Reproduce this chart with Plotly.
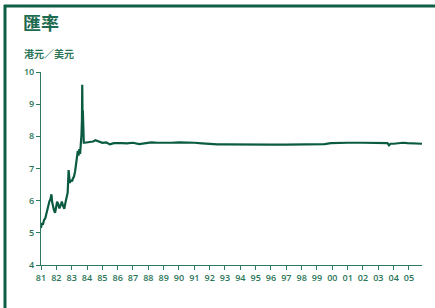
import plotly.graph_objects as go

years = [1981.00, 1981.05, 1981.12, 1981.20, 1981.28, 1981.35, 1981.42, 1981.48, 1981.55, 1981.62,
         1981.68, 1981.73, 1981.78, 1981.85, 1981.92, 1982.00, 1982.05, 1982.12, 1982.20, 1982.28,
         1982.36, 1982.45, 1982.52, 1982.60, 1982.68, 1982.74, 1982.80, 1982.84, 1982.88, 1982.95,
         1983.02, 1983.08, 1983.15, 1983.22, 1983.28, 1983.35, 1983.40, 1983.45, 1983.50, 1983.55,
         1983.60, 1983.64, 1983.67, 1983.69, 1983.71, 1983.73, 1983.76, 1983.79,
         1983.85, 1984.00, 1984.20, 1984.40, 1984.55, 1984.70, 1984.85, 1985.00, 1985.25, 1985.50,
         1985.75, 1986.00, 1986.30, 1986.60, 1987.00, 1987.40, 1987.80, 1988.20, 1988.60, 1989.00,
         1989.50, 1990.00, 1990.50, 1991.00, 1991.50, 1992.00, 1992.50, 1993.00, 1994.00, 1995.00,
         1996.00, 1997.00, 1997.50, 1998.00, 1998.50, 1999.00, 1999.50, 1999.90, 2000.50, 2001.00,
         2002.00, 2003.00, 2003.60, 2003.70, 2003.80, 2004.00, 2004.30, 2004.60, 2004.90, 2005.20,
         2005.50, 2005.85]
rates = [5.15, 5.30, 5.25, 5.40, 5.45, 5.60, 5.75, 5.85, 5.98, 6.05,
         6.20, 5.95, 5.80, 5.70, 5.62, 5.85, 5.97, 5.90, 5.76, 5.85,
         5.97, 5.82, 5.75, 5.95, 6.20, 6.25, 6.95, 6.70, 6.55, 6.65,
         6.60, 6.68, 6.75, 6.90, 7.10, 7.25, 7.55, 7.40, 7.60, 7.45,
         7.70, 8.05, 8.50, 9.60, 8.60, 8.80, 8.20, 7.80,
         7.80, 7.81, 7.82, 7.84, 7.88, 7.85, 7.82, 7.80, 7.81, 7.75,
         7.79, 7.80, 7.79, 7.78, 7.80, 7.76, 7.79, 7.81, 7.80, 7.79,
         7.80, 7.81, 7.81, 7.80, 7.78, 7.76, 7.75, 7.75, 7.74, 7.74,
         7.74, 7.74, 7.74, 7.75, 7.75, 7.75, 7.76, 7.79, 7.80, 7.80,
         7.80, 7.80, 7.79, 7.72, 7.77, 7.77, 7.79, 7.80, 7.79, 7.78,
         7.78, 7.77]

tick_years = list(range(1981, 2006))
tick_labels = [f"{y % 100:02d}" for y in tick_years]
y_ticks = [4, 5, 6, 7, 8, 9, 10]

title_text = "匯率"
unit_text = "港元／美元"

line_col = "#0b5b43"
axis_col = "#2e7a5e"
text_col = "#2a7558"

fig = go.Figure()
fig.add_trace(go.Scatter(x=years, y=rates, mode="lines",
                         line=dict(color=line_col, width=2.2), hoverinfo="skip"))

W, H = 435, 308
L, R, T, B = 41, 13, 72, 43
pw, ph = W - L - R, H - T - B

def px(x):
    return (x - L) / pw

def py(y):
    return (H - B - y) / ph

tfont = dict(family="Open Sans", size=9, color=text_col, weight=600)

fig.update_layout(
    width=W, height=H,
    margin=dict(l=L, r=R, t=T, b=B),
    paper_bgcolor="white", plot_bgcolor="white",
    showlegend=False,
    font=dict(family="Open Sans, Noto Sans CJK TC", color=text_col, size=9),
    xaxis=dict(range=[1981, 2005.85], tickvals=tick_years, ticktext=tick_labels,
               showgrid=False, zeroline=False, showline=True, linecolor=axis_col, linewidth=1,
               ticks="outside", ticklen=4, tickcolor=axis_col, tickwidth=1,
               tickfont=tfont),
    yaxis=dict(range=[4, 10], tickvals=y_ticks,
               showgrid=False, zeroline=False, showline=True, linecolor=axis_col, linewidth=1,
               ticks="outside", ticklen=4, tickcolor=axis_col, tickwidth=1,
               tickfont=tfont),
    shapes=[
        dict(type="line", xref="paper", yref="paper", x0=px(4), x1=px(W + 2), y0=py(6), y1=py(6),
             line=dict(color="#0f5f47", width=3)),
        dict(type="line", xref="paper", yref="paper", x0=px(5), x1=px(5), y0=py(5), y1=py(H + 2),
             line=dict(color="#0f5f47", width=3)),
    ],
    annotations=[
        dict(text=title_text, xref="paper", yref="paper", x=px(21), y=py(22), xanchor="left",
             yanchor="middle", showarrow=False,
             font=dict(family="Noto Sans CJK TC", size=18, color="#1d6b50", weight="bold")),
        dict(text=unit_text, xref="paper", yref="paper", x=px(22), y=py(53), xanchor="left",
             yanchor="middle", showarrow=False,
             font=dict(family="Noto Sans CJK TC", size=10, color=text_col, weight=600)),
    ],
)

fig.write_html("out.html",
               config={"displayModeBar": False},
               post_script="document.body.style.margin='0';document.body.style.overflow='hidden';")
